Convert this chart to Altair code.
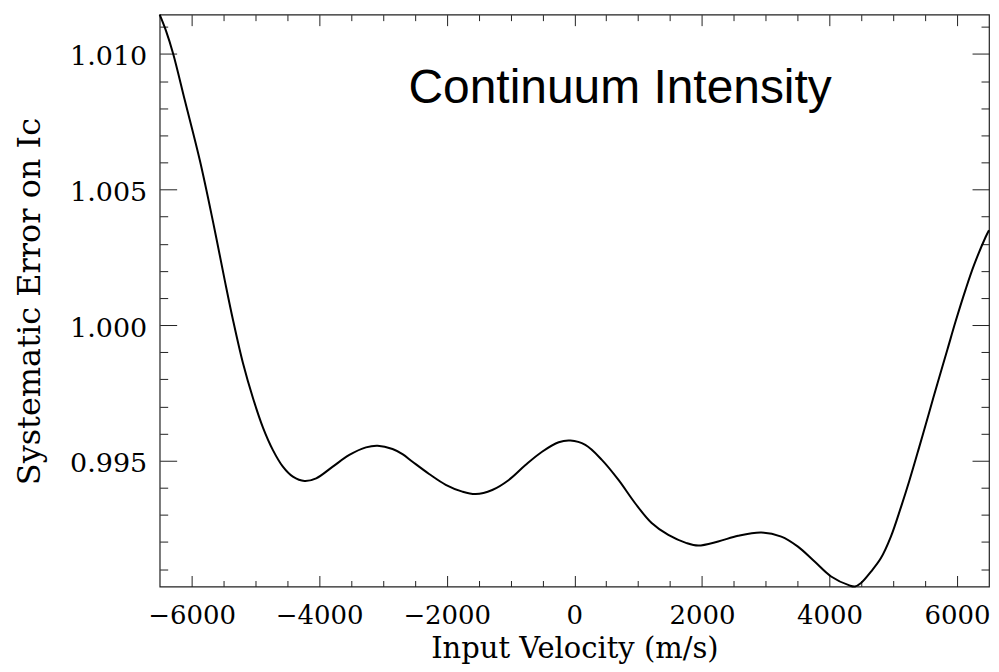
import altair as alt
import pandas as pd

# ---- data ----
velocity = [-6500, -6402, -6288, -6105, -5870, -5662, -5480, -5350, -5194, -5037,
            -4881, -4725, -4569, -4412, -4230, -4047, -3787, -3527, -3266, -3084,
            -2850, -2694, -2537, -2277, -2016, -1756, -1547, -1287, -1027, -766, -506,
            -245, -62, 172, 431, 692, 953, 1212, 1473, 1759, 1942,
            2255, 2567, 2931, 3244, 3505, 3766, 4025, 4312, 4400, 4494,
            4650, 4806, 4962, 5119, 5250, 5406, 5562, 5692, 5848, 5978,
            6134, 6266, 6447, 6500]
error = [1.01145, 1.01086, 1.01000, 1.00828, 1.00607, 1.00379, 1.00165, 1.00018, 0.99859, 0.99730,
         0.99622, 0.99539, 0.99478, 0.99441, 0.99425, 0.99435, 0.99478, 0.99521, 0.99549, 0.99555,
         0.99543, 0.99524, 0.99496, 0.99451, 0.99411, 0.99386, 0.99377, 0.99392, 0.99429, 0.99484, 0.99533,
         0.99568, 0.99574, 0.99558, 0.99503, 0.99429, 0.99343, 0.99270, 0.99226, 0.99196, 0.99187,
         0.99202, 0.99223, 0.99235, 0.99220, 0.99183, 0.99128, 0.99073, 0.99040, 0.99036, 0.99049,
         0.99091, 0.99141, 0.99220, 0.99328, 0.99425, 0.99550, 0.99678, 0.99785, 0.99910, 1.00015,
         1.00132, 1.00222, 1.00325, 1.00350]

x_major = [-6000, -4000, -2000, 0, 2000, 4000, 6000]
x_minor = [-5500, -5000, -4500, -3500, -3000, -2500, -1500, -1000, -500,
           500, 1000, 1500, 2500, 3000, 3500, 4500, 5000, 5500]
y_major = [0.995, 1.000, 1.005, 1.010]
y_minor = [0.991, 0.992, 0.993, 0.994, 0.996, 0.997, 0.998, 0.999,
           1.001, 1.002, 1.003, 1.004, 1.006, 1.007, 1.008, 1.009, 1.011]

x_domain = [-6500, 6500]
y_domain = [0.99036, 1.01145]

note_text = ["Continuum Intensity"]
note_x = [-2600]
note_y = [1.00818]

x_title = "Input Velocity (m/s)"
y_title = "Systematic Error on Ic"

# ---- layout / style ----
W, H = 831, 573
FRAME = "#222222"
SERIF = "DejaVu Serif"

df = pd.DataFrame({"v": velocity, "e": error})
note_df = pd.DataFrame({"v": note_x, "e": note_y, "t": note_text})

xs = alt.Scale(domain=x_domain, nice=False, zero=False)
ys = alt.Scale(domain=y_domain, nice=False, zero=False)

# main line with labelled axes (no ticks; ticks are drawn inward by other layers)
line = alt.Chart(df).mark_line(color="black", strokeWidth=2, interpolate="catmull-rom").encode(
    x=alt.X("v:Q", scale=xs, axis=alt.Axis(
        orient="bottom", values=x_major, format="d", ticks=False, tickSize=0,
        domain=False, grid=False, labelFont=SERIF, labelFontSize=26, labelColor="black",
        labelBaseline="alphabetic", labelPadding=37, labelFlush=False, labelOverlap=False,
        title=x_title, titleFont=SERIF, titleFontSize=29, titleFontWeight="normal",
        titleColor="black", titleBaseline="alphabetic", titleAlign="center",
        titleX=W / 2, titleY=71)),
    y=alt.Y("e:Q", scale=ys, axis=alt.Axis(
        orient="left", values=y_major, format=".3f", ticks=False, tickSize=0,
        domain=False, grid=False, labelFont=SERIF, labelFontSize=27, labelColor="black",
        labelBaseline="alphabetic", labelOffset=11, labelPadding=13, labelFlush=False,
        labelOverlap=False,
        title=y_title, titleFont=SERIF, titleFontSize=32, titleFontWeight="normal",
        titleColor="black", titleBaseline="alphabetic", titleAlign="center",
        titleAngle=270, titleX=-120, titleY=287)),
)


def tick_layer(xvals, yvals, x_orient, y_orient, xsize, ysize):
    return alt.Chart(df).mark_line(strokeOpacity=0).encode(
        x=alt.X("v:Q", scale=xs, axis=alt.Axis(
            orient=x_orient, offset=-H, values=xvals, labels=False, ticks=True,
            tickSize=xsize, tickColor=FRAME, tickWidth=1, domain=False, grid=False,
            title=None)),
        y=alt.Y("e:Q", scale=ys, axis=alt.Axis(
            orient=y_orient, offset=-W, values=yvals, labels=False, ticks=True,
            tickSize=ysize, tickColor=FRAME, tickWidth=1, domain=False, grid=False,
            title=None)),
    )


# bottom/left inward ticks, then top/right inward ticks
t1 = tick_layer(x_major, y_major, "top", "right", 11, 17)
t2 = tick_layer(x_minor, y_minor, "top", "right", 6, 8)
t3 = tick_layer(x_major, y_major, "bottom", "left", 11, 17)
t4 = tick_layer(x_minor, y_minor, "bottom", "left", 6, 8)

note = alt.Chart(note_df).mark_text(
    font="Liberation Sans", fontSize=48, align="left", baseline="alphabetic", color="black"
).encode(
    x=alt.X("v:Q", scale=xs, axis=None),
    y=alt.Y("e:Q", scale=ys, axis=None),
    text="t:N",
)

chart = alt.layer(line, t1, t2, t3, t4, note).resolve_axis(
    x="independent", y="independent"
).properties(
    width=W, height=H,
    autosize=alt.AutoSizeParams(type="none"),
    padding={"left": 152, "top": 6, "right": 2, "bottom": 77},
    background="white",
).configure_view(stroke=FRAME, strokeWidth=1.2)

chart.save("out.html", embed_options={"renderer": "svg", "actions": False})
